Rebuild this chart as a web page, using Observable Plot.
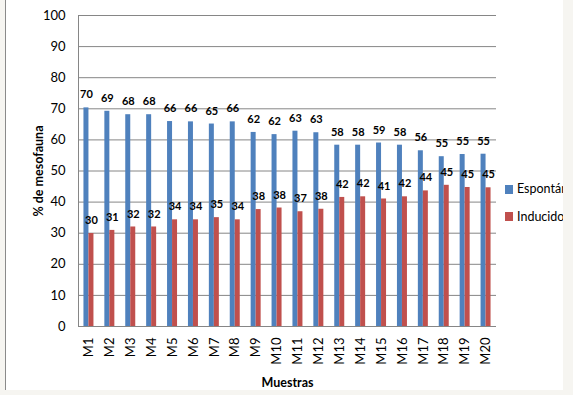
<!DOCTYPE html>
<html>
<head>
<meta charset="utf-8">
<script src="https://cdn.jsdelivr.net/npm/d3@7"></script>
<script src="https://cdn.jsdelivr.net/npm/@observablehq/plot@0.6"></script>
<style>
  html, body { margin: 0; padding: 0; background: #f6f5f1; }
  #card { position: absolute; left: 5px; top: 0; width: 557px; height: 390px; background: #fff; border-left: 1px solid #8a8a8a; overflow: hidden; }
  #chart { position: absolute; left: 0; top: 0; }
  #chart svg { font-family: Lato, "Open Sans", sans-serif; }
  .leg { position: absolute; font-family: Lato, "Open Sans", sans-serif; font-size: 12.5px; color: #000; white-space: nowrap; line-height: 1; }
  .sw { position: absolute; width: 8px; height: 9px; }
</style>
</head>
<body>
<div id="card">
  <div id="chart"></div>
  <div class="sw" style="left:499px;top:185px;background:#4f81bd"></div>
  <div class="leg" style="left:511px;top:183px">Espontáneo</div>
  <div class="sw" style="left:499px;top:212px;background:#c0504d"></div>
  <div class="leg" style="left:511px;top:211px">Inducido</div>
</div>
<script>
const muestras = ["M1","M2","M3","M4","M5","M6","M7","M8","M9","M10","M11","M12","M13","M14","M15","M16","M17","M18","M19","M20"];
const espontaneo = [70.3,69.2,68.1,68.1,65.9,65.8,65.1,65.8,62.4,61.7,62.8,62.3,58.3,58.3,59.0,58.3,56.5,54.6,55.3,55.4];
const inducido = [29.9,30.9,32.0,32.0,34.3,34.3,35.0,34.3,37.6,38.1,36.9,37.7,41.5,41.7,41.0,41.7,43.6,45.4,44.7,44.6];
const espLabels = [70,69,68,68,66,66,65,66,62,62,63,63,58,58,59,58,56,55,55,55];
const indLabels = [30,31,32,32,34,34,35,34,38,38,37,38,42,42,41,42,44,45,45,45];
const yTicks = [0,10,20,30,40,50,60,70,80,90,100];

const esp = muestras.map((m, i) => ({m, v: espontaneo[i], t: espLabels[i]}));
const ind = muestras.map((m, i) => ({m, v: inducido[i], t: indLabels[i]}));

const bw = 418 / 20;
const plot = Plot.plot({
  width: 557,
  height: 390,
  marginLeft: 72,
  marginRight: 67,
  marginTop: 15,
  marginBottom: 64,
  style: {background: "transparent", fontSize: "13px", color: "#000"},
  x: {domain: muestras, padding: 0, round: false, tickSize: 0, tickPadding: 11, tickRotate: -90, label: "Muestras", labelArrow: "none", labelAnchor: "center", labelOffset: 60},
  y: {domain: [0, 100], ticks: yTicks, tickSize: 0, tickPadding: 13, label: "% de mesofauna", labelArrow: "none", labelAnchor: "center", labelOffset: 44},
  marks: [
    Plot.ruleY(yTicks, {stroke: "#868686", strokeOpacity: 1}),
    Plot.frame({anchor: "left", stroke: "#868686"}),
    Plot.barY(esp, {x: "m", y: "v", fill: "#4f81bd", insetLeft: bw/2 - 5, insetRight: bw/2}),
    Plot.barY(ind, {x: "m", y: "v", fill: "#c0504d", insetLeft: bw/2, insetRight: bw/2 - 5}),
    Plot.text(esp, {x: "m", y: "v", text: "t", dx: -2.5, dy: -13, fontWeight: "bold", fontSize: 11}),
    Plot.text(ind, {x: "m", y: "v", text: "t", dx: 2.5, dy: -13, fontWeight: "bold", fontSize: 11})
  ]
});
document.getElementById("chart").appendChild(plot);
d3.select(plot).selectAll('[aria-label="x-axis label"] text, [aria-label="y-axis label"] text, [aria-label="x-axis label"], [aria-label="y-axis label"]').style("font-weight", "bold").style("font-size", "12.5px");
</script>
</body>
</html>
